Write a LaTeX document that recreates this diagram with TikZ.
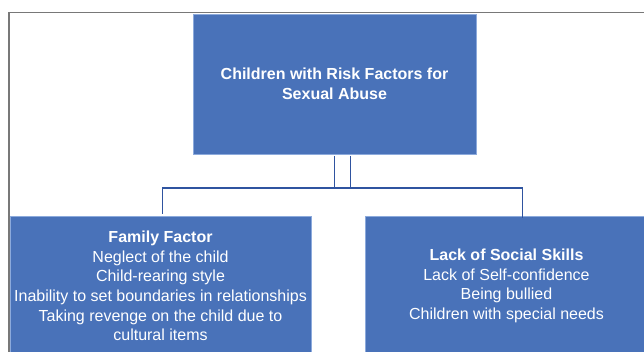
\documentclass[tikz,border=0pt]{standalone}
\usepackage{fontspec}
\setmainfont{Liberation Sans}
\definecolor{boxblue}{RGB}{73,114,185}
\definecolor{edgeblue}{RGB}{140,170,220}
\definecolor{linkblue}{RGB}{47,84,160}
\definecolor{framegray}{RGB}{120,120,120}
\tikzset{
  box/.style={fill=boxblue, draw=edgeblue, line width=0.6pt, text=white, align=center, inner sep=0pt,
    font=\fontsize{16}{19.6}\selectfont},
  conn/.style={draw=linkblue, line width=1.3pt},
  frame/.style={draw=framegray, line width=1.4pt}
}
\begin{document}
\begin{tikzpicture}[x=1pt,y=-1pt]
\useasboundingbox (0,0) rectangle (644,351);
\clip (0,0) rectangle (644,351);
\fill[white] (0,0) rectangle (644,351);
\draw[frame] (9,400) -- (9,12.7) -- (700,12.7);
\node[box, minimum width=283pt, minimum height=140pt] (top) at (334.5,84)
  {\bfseries Children with Risk Factors for\\ \bfseries Sexual Abuse};
\node[box, minimum width=301pt, minimum height=140pt] (left) at (160.5,286)
  {\bfseries Family Factor\\ Neglect of the child\\ Child-rearing style\\
   Inability to set boundaries in relationships\\ Taking revenge on the child due to\\ cultural items};
\node[box, minimum width=283pt, minimum height=140pt] (right) at (506.5,286)
  {\bfseries Lack of Social Skills\\ Lack of Self-confidence\\ Being bullied\\ Children with special needs};
\coordinate (a1) at (334.3,188);
\coordinate (a2) at (350.3,188);
\coordinate (dl) at (162.3,188);
\coordinate (dr) at (522.3,188);
\draw[conn] (top.south -| a1) ++(0,1.5) -- (a1);
\draw[conn] (top.south -| a2) ++(0,1.5) -- (a2);
\draw[conn] (dl |- left.north) ++(0,-2) -- (dl) -- (dr) -- ([yshift=-2pt]dr |- right.north);
\end{tikzpicture}
\end{document}
